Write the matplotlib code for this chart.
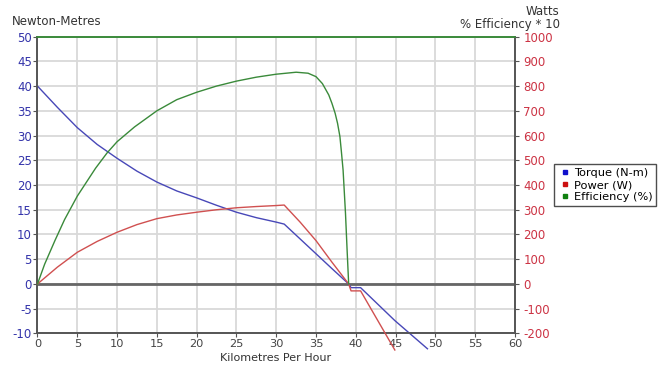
import matplotlib.pyplot as plt
from matplotlib.lines import Line2D

plt.rcParams['axes.unicode_minus'] = False

# speed points (km/h) shared by torque and power
speed = [0, 2.5, 5, 7.5, 10, 12.5, 15, 17.5, 20, 22.5, 25, 27.5, 30, 31,
         33, 35, 37, 39.1, 39.4, 40.6, 44.9, 49]
torque_nm = [40, 35.7, 31.6, 28.2, 25.4, 22.8, 20.6, 18.8, 17.4, 15.9, 14.5, 13.4, 12.5, 12.1,
             9.1, 6.1, 3.1, 0, -0.75, -0.75, -7.4, -13.1]
power_w = [0, 68, 128, 172, 209, 240, 264, 279, 290, 300, 308, 313, 317, 319,
           250, 175, 88, 0, -28, -28, -267, None]

# efficiency curve (percent)
eff_speed = [0, 0.9, 2.2, 3.4, 5, 7.3, 8.75, 10, 12.2, 15, 17.5, 20, 22.5, 25, 27.5, 30,
             32.5, 34, 35, 35.8, 36.6, 37.0, 37.4, 37.7, 38.0, 38.2, 38.4, 38.7, 38.9, 39.1]
eff_pct = [0, 8, 17.6, 26, 35.5, 46.8, 53, 57.5, 63.5, 70, 74.5, 77.5, 80, 82, 83.6, 84.8,
           85.6, 85.2, 83.8, 81, 76.4, 73, 69, 65, 59.6, 53, 46, 28.6, 14, 0]

x_ticks = list(range(0, 61, 5))
left_ticks = list(range(-10, 51, 5))
right_ticks = list(range(-200, 1001, 100))

blue_txt = '#3333aa'
red_txt = '#cc3344'
spine = '#555555'

fig = plt.figure(figsize=(6.6, 3.66), dpi=100)
ax = fig.add_axes([0.0568, 0.089, 0.7235, 0.811])
ax2 = ax.twinx()

ax.set_xlim(0, 60)
ax.set_ylim(-10, 50)
ax2.set_ylim(-200, 1000)
ax.set_xticks(x_ticks)
ax.set_yticks(left_ticks)
ax2.set_yticks(right_ticks)

ax.grid(True, color='#d9d9d9', linewidth=1.3)
ax.set_axisbelow(True)
ax.axhline(0, color='#666666', linewidth=2, zorder=1)

for a in (ax, ax2):
    for s in a.spines.values():
        s.set_color(spine)
        s.set_linewidth(1.2)
    a.spines['top'].set_color('#3a8a3a')

ax.tick_params(axis='x', labelsize=8.2, colors=spine, labelcolor='#444444', length=3, pad=1)
ax.tick_params(axis='y', labelsize=8.5, colors=spine, labelcolor=blue_txt, length=3, pad=1)
ax2.tick_params(axis='y', labelsize=8.5, colors=spine, labelcolor=red_txt, length=3, pad=3)

# torque on left axis
ax.plot(speed, torque_nm, color='#4848b8', linewidth=1, clip_on=False, zorder=3)

# power and efficiency*10 on right axis
p_x = [s for s, p in zip(speed, power_w) if p is not None]
p_y = [p for p in power_w if p is not None]
ax2.plot(p_x, p_y, color='#d05050', linewidth=1, clip_on=False, zorder=3)
ax2.plot(eff_speed, [e * 10 for e in eff_pct], color='#3a8a3a', linewidth=1, zorder=3)

fig.text(0.417, 0.021, 'Kilometres Per Hour', fontsize=8, color='#333333', ha='center', va='center')
fig.text(0.018, 0.94, 'Newton-Metres', fontsize=8.5, color='#333333', ha='left', va='center')
fig.text(0.848, 0.968, 'Watts', fontsize=8.5, color='#333333', ha='right', va='center')
fig.text(0.848, 0.932, '% Efficiency * 10', fontsize=8.5, color='#333333', ha='right', va='center')

handles = [Line2D([], [], marker='s', linestyle='none', color='#1010cc', markersize=3.5),
           Line2D([], [], marker='s', linestyle='none', color='#cc1010', markersize=3.5),
           Line2D([], [], marker='s', linestyle='none', color='#108010', markersize=3.5)]
leg = fig.legend(handles, ['Torque (N-m)', 'Power (W)', 'Efficiency (%)'],
                 loc='upper left', bbox_to_anchor=(0.839, 0.551), fontsize=8.2,
                 frameon=True, fancybox=False, borderpad=0.35, labelspacing=0.15,
                 handletextpad=0.2, handlelength=1.2, borderaxespad=0)
leg.get_frame().set_edgecolor('#222222')
leg.get_frame().set_linewidth(1)

fig.savefig('out.png', dpi=100)
